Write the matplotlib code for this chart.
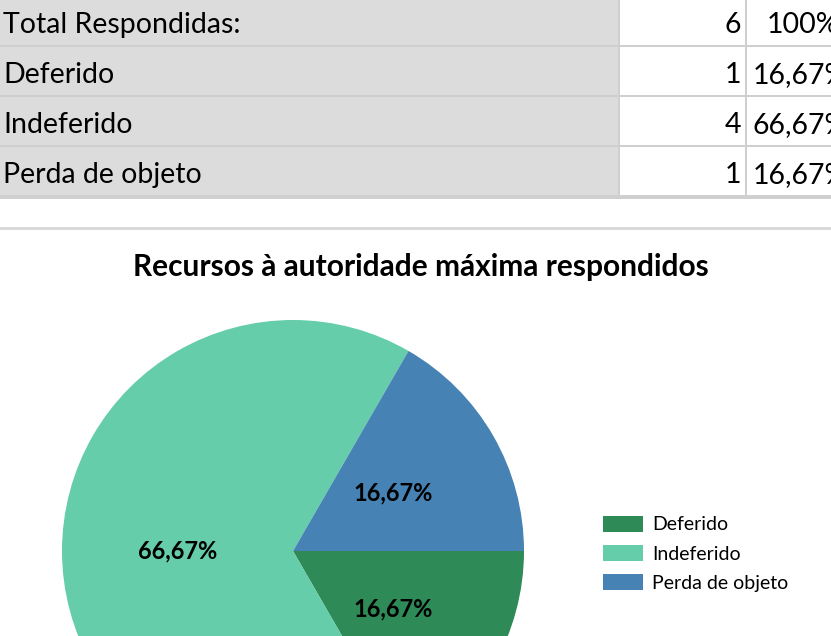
import matplotlib.pyplot as plt
from matplotlib.patches import Rectangle

# ---------- DATA ----------
categories = ["Deferido", "Indeferido", "Perda de objeto"]
counts = [1, 4, 1]
colors = ["#2e8b57", "#66cdaa", "#4682b4"]
total_label = "Total Respondidas:"
title = "Recursos à autoridade máxima respondidos"
# --------------------------

W, H = 831, 636
plt.rcParams['font.family'] = ['Lato', 'DejaVu Sans']

fig = plt.figure(figsize=(W / 100, H / 100), dpi=100)


def fx(x):
    return x / W


def fy(y):
    return 1 - y / H


def pct_str(v, tot):
    return f"{100 * v / tot:.2f}%".replace('.', ',')


total = sum(counts)

# ---------- table ----------
rows = [(total_label, total, "100%")] + [
    (c, n, pct_str(n, total)) for c, n in zip(categories, counts)]
row_h = 50
top = -3
line_col = "#cfcfcf"
for i, (lab, num, pct) in enumerate(rows):
    y0 = top + i * row_h
    fig.patches.append(Rectangle((fx(0), fy(y0 + row_h)), fx(619), row_h / H,
                                 transform=fig.transFigure, facecolor="#dcdcdc",
                                 edgecolor="none"))
    fig.patches.append(Rectangle((fx(619), fy(y0 + row_h)), fx(W - 619), row_h / H,
                                 transform=fig.transFigure, facecolor="white",
                                 edgecolor="none"))
    # row separator
    fig.patches.append(Rectangle((0, fy(y0 + row_h + 1.5)), 1, 3 / H,
                                 transform=fig.transFigure, facecolor=line_col,
                                 edgecolor="none"))
    yc = fy(y0 + row_h / 2 + 3)
    fig.text(fx(3), yc, lab, fontsize=20.5, va="center", ha="left", color="black")
    fig.text(fx(741), yc, str(num), fontsize=20.5, va="center", ha="right")
    px = 767 if i == 0 else 753
    fig.text(fx(px), yc, pct, fontsize=20.5, va="center", ha="left")

for xv in (619, 746):
    fig.patches.append(Rectangle((fx(xv - 1), fy(197)), 2 / W, 197 / H,
                                 transform=fig.transFigure, facecolor=line_col,
                                 edgecolor="none"))

# chart border line
fig.patches.append(Rectangle((0, fy(230)), 1, 3 / H, transform=fig.transFigure,
                             facecolor="#d9d9d9", edgecolor="none"))

# ---------- title ----------
fig.text(fx(421), fy(267), title, fontsize=21.5, fontweight="bold",
         ha="center", va="center")

# ---------- pie ----------
cx, cy, r = 293, 551, 231
ax = fig.add_axes([fx(cx - r), fy(cy + r), 2 * r / W, 2 * r / H])
wedges, _, autotexts = ax.pie(
    counts, colors=colors, startangle=0, counterclock=False, radius=1,
    autopct=lambda p: pct_str(p, 100), pctdistance=0.5,
    wedgeprops=dict(linewidth=0),
    textprops=dict(fontsize=17, fontweight="bold", color="black"))
ax.set_xlim(-1, 1)
ax.set_ylim(-1, 1)
ax.set_aspect("equal")
ax.axis("off")

# ---------- legend ----------
fig.legend(wedges, categories, loc="upper left",
           bbox_to_anchor=(fx(585), fy(498)), frameon=False,
           fontsize=14, handlelength=2.06, handleheight=0.93,
           labelspacing=0.58, handletextpad=0.5)

plt.savefig("out.png", dpi=100)
